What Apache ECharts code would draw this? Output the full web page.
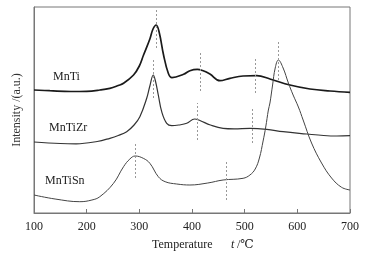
<!DOCTYPE html>
<html>
<head>
<meta charset="utf-8">
<script src="https://cdn.jsdelivr.net/npm/echarts@6/dist/echarts.min.js"></script>
<style>
  html, body { margin: 0; padding: 0; background: #fff; }
  #main { width: 376px; height: 256px; }
</style>
</head>
<body>
<div id="main"></div>
<script>
// 温度刻度
const xTicks = [100, 200, 300, 400, 500, 600, 700];

// H2-TPR 曲线 [温度, 强度]
const mnTi = [
  [100, 123], [130, 122.3], [170, 121.5], [200, 121.7], [225, 123], [244, 124.7],
  [260, 127.5], [270, 129.7], [289, 138], [300, 147], [308, 158], [320, 174],
  [326, 184], [332, 188], [338, 180], [346, 158], [355, 139.7], [362, 135.3],
  [384, 138.7], [396, 142.3], [410, 143.7], [420, 142.5], [434, 139], [453, 132.3],
  [472, 134.7], [497, 137], [523, 137.3], [548, 134], [586, 128], [624, 124],
  [662, 122], [700, 120.7]
];
const mnTiZr = [
  [100, 71], [150, 69.5], [180, 69.2], [220, 71.5], [244, 74.7], [260, 77.5],
  [276, 81.3], [290, 88], [301, 96.3], [314, 114.7], [320, 127], [326.5, 138],
  [331, 131], [336, 118], [342.5, 101.3], [352, 89.7], [361.5, 87.3], [375, 88],
  [390, 89.7], [405, 94], [415, 92.5], [435, 88], [459, 84.7], [480, 84.2],
  [510, 84.7], [542, 83.7], [573, 81.3], [618, 79], [650, 77.5], [675, 77], [700, 77.3]
];
const mnTiSn = [
  [100, 18], [140, 14], [187, 11.3], [210, 13], [225, 16.3], [251, 29.7],
  [270, 46.3], [282, 54], [292, 57], [307.5, 54.7], [320, 49.7], [336, 36.3],
  [349, 31.3], [371, 29], [396, 28], [430, 30], [459, 33], [497, 34.7],
  [510, 38], [520, 44], [528, 55], [535, 72], [540, 86], [545, 103], [548, 110],
  [553, 128], [558, 145], [564, 153], [573, 145], [583, 130], [592, 118],
  [602, 106], [611, 93], [627, 70], [646, 50], [665, 35], [684, 25.7], [700, 23]
];

// 峰位虚线 [温度, 下端, 上端]
const mnTiPeaks = [[332, 165, 203], [415, 122, 160], [520, 120, 156]];
const mnTiZrPeaks = [[327, 115, 153], [410, 73, 110], [514, 70, 106]];
const mnTiSnPeaks = [[292, 35, 70], [465, 13, 51], [564, 133, 171]];

const serif = "'Liberation Serif', 'DejaVu Serif', serif";

const peakLines = (peaks) => ({
  silent: true,
  symbol: ["none", "none"],
  label: { show: false },
  lineStyle: { type: [2, 2], color: "#999", width: 1 },
  data: peaks.map((p) => [{ coord: [p[0], p[1]] }, { coord: [p[0], p[2]] }]),
});

const makeSeries = (name, data, peaks, color, width) => ({
  name: name,
  type: "line",
  data: data,
  smooth: 0.4,
  showSymbol: false,
  lineStyle: { color: color, width: width },
  markLine: peakLines(peaks),
});

const chart = echarts.init(document.getElementById("main"));
chart.setOption({
  animation: false,
  grid: {
    left: 34, right: 26, top: 7, bottom: 43,
    show: true, borderColor: "#777", borderWidth: 1,
  },
  xAxis: {
    type: "value",
    min: xTicks[0],
    max: xTicks[xTicks.length - 1],
    interval: 100,
    axisLine: { lineStyle: { color: "#777" } },
    axisTick: { inside: true, length: 4, lineStyle: { color: "#777" } },
    splitLine: { show: false },
    axisLabel: { color: "#222", fontFamily: serif, fontSize: 12, margin: 8 },
  },
  yAxis: {
    type: "value",
    min: 0,
    max: 206,
    name: "Intensity /(a.u.)",
    nameLocation: "middle",
    nameGap: 11,
    nameTextStyle: { color: "#333", fontFamily: serif, fontSize: 12 },
    axisLine: { show: true, lineStyle: { color: "#777" } },
    axisTick: { show: false },
    axisLabel: { show: false },
    splitLine: { show: false },
  },
  series: [
    makeSeries("MnTi", mnTi, mnTiPeaks, "#1a1a1a", 1.7),
    makeSeries("MnTiZr", mnTiZr, mnTiZrPeaks, "#333", 1.2),
    makeSeries("MnTiSn", mnTiSn, mnTiSnPeaks, "#444", 1),
  ],
  graphic: [
    { type: "text", left: 53, top: 71, style: { text: "MnTi", font: "12px " + serif, fill: "#222" } },
    { type: "text", left: 49, top: 122, style: { text: "MnTiZr", font: "12px " + serif, fill: "#222" } },
    { type: "text", left: 45, top: 175, style: { text: "MnTiSn", font: "12px " + serif, fill: "#222" } },
    { type: "text", left: 152, top: 239, style: { text: "Temperature", font: "12px " + serif, fill: "#222" } },
    { type: "text", left: 231, top: 239, style: { text: "t", font: "italic 12px " + serif, fill: "#222" } },
    { type: "text", left: 237, top: 239, style: { text: "/℃", font: "12px " + serif, fill: "#222" } },
  ],
});
</script>
</body>
</html>
